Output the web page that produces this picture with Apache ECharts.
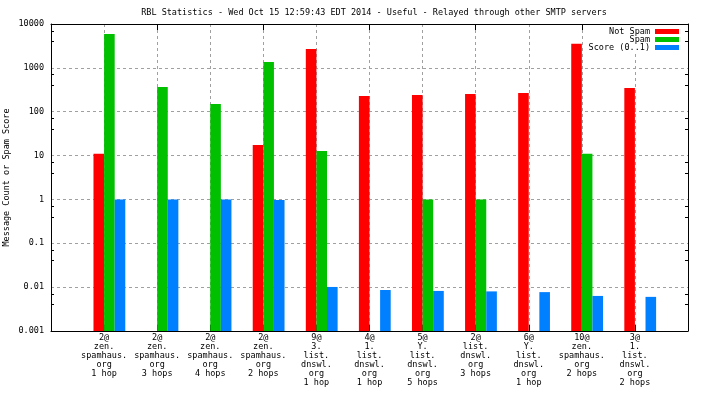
<!DOCTYPE html>
<html>
<head>
<meta charset="utf-8">
<script src="https://cdn.jsdelivr.net/npm/echarts@6/dist/echarts.min.js"></script>
<style>
  html, body { margin: 0; padding: 0; background: #fff; }
  #chart { width: 704px; height: 396px; }
</style>
</head>
<body>
<div id="chart"></div>
<script>
  // blocklist tested, with how many hops back
  var categories = [
    '2@\nzen.\nspamhaus.\norg\n1 hop',
    '2@\nzen.\nspamhaus.\norg\n3 hops',
    '2@\nzen.\nspamhaus.\norg\n4 hops',
    '2@\nzen.\nspamhaus.\norg\n2 hops',
    '9@\n3.\nlist.\ndnswl.\norg\n1 hop',
    '4@\n1.\nlist.\ndnswl.\norg\n1 hop',
    '5@\nY.\nlist.\ndnswl.\norg\n5 hops',
    '2@\nlist.\ndnswl.\norg\n3 hops',
    '6@\nY.\nlist.\ndnswl.\norg\n1 hop',
    '10@\nzen.\nspamhaus.\norg\n2 hops',
    '3@\n1.\nlist.\ndnswl.\norg\n2 hops'
  ]
  var notSpam = [11, '-', '-', 17.4, 2690, 228, 240, 254, 267, 3560, 347]
  var spam = [5900, 366, 150, 1360, 12.7, '-', 1, 1, '-', 11, '-']
  var score = [1, 1, 1, 0.97, 0.0101, 0.0086, 0.0082, 0.008, 0.0077, 0.0063, 0.006]
  var yTicks = [0.001, 0.01, 0.1, 1, 10, 100, 1000, 10000]

  var font = 'DejaVu Sans Mono'
  // empty slot at each end so the clusters sit at 1/12 .. 11/12
  var axisCats = [''].concat(categories, [''])
  function pad (arr) { return ['-'].concat(arr, ['-']) }

  var chart = echarts.init(document.getElementById('chart'))
  var tickStyle = { inside: true, length: 6, lineStyle: { color: '#000' } }
  var minorStyle = { show: true, splitNumber: 3, length: 3, lineStyle: { color: '#000' } }

  chart.setOption({
    animation: false,
    textStyle: { fontFamily: font },
    title: {
      text: 'RBL Statistics - Wed Oct 15 12:59:43 EDT 2014 - Useful - Relayed through other SMTP servers',
      left: 369,
      textAlign: 'center',
      top: 3,
      textStyle: { fontFamily: font, fontSize: 8.5, fontWeight: 'normal', color: '#000' }
    },
    legend: {
      data: ['Not Spam', 'Spam', 'Score (0..1)'],
      orient: 'vertical',
      align: 'right',
      right: 23,
      top: 25,
      padding: 2,
      backgroundColor: '#fff',
      itemWidth: 24,
      itemHeight: 5,
      itemGap: -1,
      icon: 'rect',
      textStyle: { fontFamily: font, fontSize: 8.5, color: '#000', lineHeight: 8 }
    },
    grid: { left: 51, right: 16, top: 24, bottom: 65, outerBoundsMode: 'none', containLabel: false },
    xAxis: [{
      type: 'category',
      data: axisCats,
      boundaryGap: false,
      axisLine: { lineStyle: { color: '#000' } },
      axisTick: tickStyle,
      axisLabel: { interval: 0, margin: 2, fontSize: 8.5, lineHeight: 9, color: '#000', fontFamily: font },
      splitLine: { show: true, lineStyle: { color: '#a0a0a0', type: [3, 3] } }
    }, {
      type: 'category',
      data: axisCats,
      boundaryGap: false,
      position: 'top',
      axisLine: { lineStyle: { color: '#000' } },
      axisTick: tickStyle,
      axisLabel: { show: false },
      splitLine: { show: false }
    }],
    yAxis: [{
      type: 'log',
      min: 0.001,
      max: 10000,
      startValue: 0.001,
      name: 'Message Count or Spam Score',
      nameLocation: 'middle',
      nameGap: 40,
      nameMoveOverlap: false,
      nameTextStyle: { fontFamily: font, fontSize: 8.5, color: '#000' },
      axisLine: { show: true, lineStyle: { color: '#000' } },
      axisTick: tickStyle,
      minorTick: minorStyle,
      axisLabel: {
        margin: 7, fontSize: 8.5, color: '#000', fontFamily: font,
        formatter: function (v) {
          var hit = yTicks.filter(function (t) { return Math.abs(t - v) / t < 1e-6 })
          return hit.length ? String(hit[0]) : ''
        }
      },
      splitLine: { show: true, lineStyle: { color: '#a0a0a0', type: [3, 3] } }
    }, {
      type: 'log',
      min: 0.001,
      max: 10000,
      position: 'right',
      axisLine: { show: true, lineStyle: { color: '#000' } },
      axisTick: tickStyle,
      minorTick: minorStyle,
      axisLabel: { show: false },
      splitLine: { show: false }
    }],
    series: [
      { name: '', type: 'bar', barWidth: 10.6, barGap: '0%', data: pad([]) },
      { name: 'Not Spam', type: 'bar', barWidth: 10.6, barGap: '0%', itemStyle: { color: '#ff0000' }, data: pad(notSpam) },
      { name: 'Spam', type: 'bar', barWidth: 10.6, barGap: '0%', itemStyle: { color: '#00c000' }, data: pad(spam) },
      { name: 'Score (0..1)', type: 'bar', barWidth: 10.6, barGap: '0%', itemStyle: { color: '#0080ff' }, data: pad(score) }
    ]
  })
</script>
</body>
</html>
